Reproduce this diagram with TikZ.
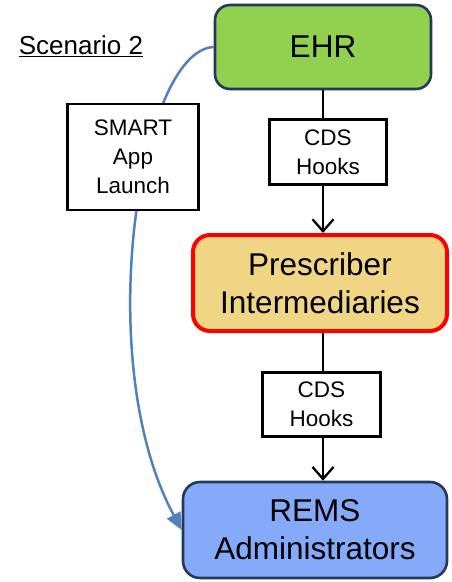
\documentclass[tikz,border=0pt]{standalone}
\usepackage{fontspec}
\setmainfont{Liberation Sans}
\usepackage{xcolor}
\usepackage{tikz}
\usetikzlibrary{arrows.meta,positioning}
\definecolor{ehrgreen}{RGB}{146,208,80}
\definecolor{presyellow}{RGB}{240,214,132}
\definecolor{remsblue}{RGB}{134,170,250}
\definecolor{navyline}{RGB}{35,56,90}
\definecolor{launchblue}{RGB}{79,129,189}
\newcommand{\bigfont}{\fontsize{31.5}{38}\selectfont}
\newcommand{\smallfont}{\fontsize{22.5}{29}\selectfont}

\begin{document}
\begin{tikzpicture}[x=1pt,y=-1pt,>={Straight Barb[length=12pt,width=21pt]},
  actor/.style={draw=navyline,line width=2.6pt,rounded corners=15pt,align=center,inner sep=0pt,font=\bigfont},
  hookbox/.style={draw,fill=white,line width=2.3pt,align=center,inner sep=0pt,font=\smallfont},
  flow/.style={line width=2.3pt}]
  \useasboundingbox (0,0) rectangle (451,582);
  \node[actor,fill=ehrgreen,minimum width=216pt,minimum height=84pt] (ehr) at (323,47) {EHR};
  \node[actor,draw=red,line width=4pt,rounded corners=17pt,fill=presyellow,minimum width=254pt,minimum height=96pt] (presc) at (320,283) {Prescriber\\Intermediaries};
  \node[actor,fill=remsblue,rounded corners=17pt,minimum width=264pt,minimum height=96pt] (rems) at (315,530) {REMS\\Administrators};
  \draw[launchblue,line width=2.5pt,-{Triangle[length=17pt,width=15pt]}] (ehr.west) .. controls (140,50) and (90,360) .. (rems.west);
  \node[hookbox,minimum width=131pt,minimum height=106pt] (smart) at (133,157) {SMART\\App\\Launch};
  \node[hookbox,minimum width=117pt,minimum height=65pt] (cdsA) at (328,152) {CDS\\Hooks};
  \node[hookbox,minimum width=118pt,minimum height=64pt] (cdsB) at (321.5,404.5) {CDS\\Hooks};
  \node[font=\fontsize{26}{30}\selectfont] (scen) at (81,46) {\underline{Scenario 2}};
  \draw[flow] (ehr.south) -- (ehr.south |- cdsA.north);
  \draw[flow,->] (ehr.south |- cdsA.south) -- (ehr.south |- presc.north);
  \draw[flow] (ehr.south |- presc.south) -- (ehr.south |- cdsB.north);
  \draw[flow,->] (ehr.south |- cdsB.south) -- (ehr.south |- rems.north);
\end{tikzpicture}
\end{document}
